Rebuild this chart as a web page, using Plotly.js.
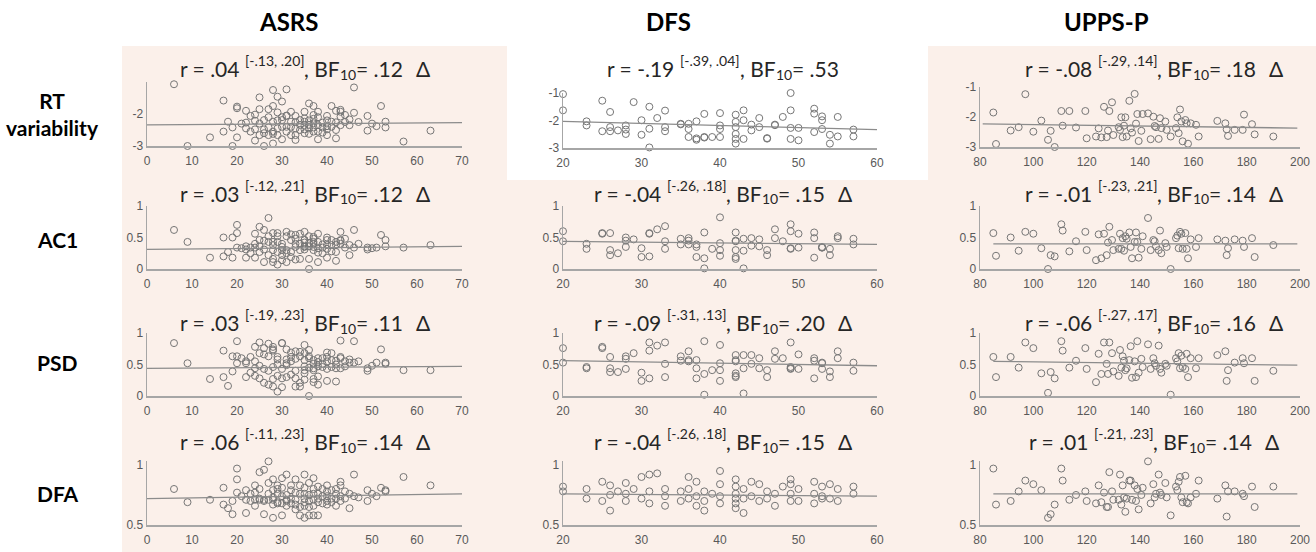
<!DOCTYPE html>
<html><head><meta charset="utf-8">
<script src="https://cdn.plot.ly/plotly-3.0.1.min.js"></script>
<style>html,body{margin:0;padding:0;background:#fff}#chart{width:1316px;height:552px}</style>
</head><body><div id="chart"></div>
<script>
// ---------- labels ----------
const colNames = ["ASRS", "DFS", "UPPS-P"];
const rowNames = ["RT<br>variability", "AC1", "PSD", "DFA"];
const colXRange = [[0, 70], [20, 60], [80, 200]];
const colXTicks = [[0, 10, 20, 30, 40, 50, 60, 70], [20, 30, 40, 50, 60], [80, 100, 120, 140, 160, 180, 200]];

// ---------- ASRS (x shared across rows) ----------
const asrsX = [6,9,14,17,17,18,19,19,20,20,20,22,22,22,23,24,24,24,25,25,25,26,26,26,27,27,27,
  28,28,28,28,28,29,29,29,30,30,30,30,31,31,31,32,32,32,33,33,33,34,34,34,35,35,35,35,35,
  36,36,36,37,37,37,37,38,38,38,39,39,40,40,40,41,41,42,42,42,43,43,43,44,45,46,46,49,49,51,52,53,53,57,63,
  21,23,24,25,26,27,28,29,29,30,31,31,32,33,33,34,35,35,36,36,37,37,38,38,39,40,40,41,42,43,44,45,47,50];
const asrsRT = [-1.07,-3.0,-2.73,-1.58,-2.55,-2.24,-2.42,-3.0,-1.77,-1.82,-2.73,-1.9,-2.27,-2.45,-2.06,
  -2.48,-2.83,-2.21,-1.48,-1.85,-2.66,-2.19,-3.0,-2.48,-1.85,-2.42,-2.66,-1.25,-1.75,-2.24,-2.92,-2.55,
  -1.46,-2.45,-2.66,-1.61,-2.19,-2.1,-2.79,-2.4,-1.23,-2.06,-1.93,-2.66,-2.24,-2.45,-2.81,-2.06,
  -2.19,-3.04,-2.34,-1.93,-2.48,-3.02,-2.14,-2.24,-1.67,-2.34,-2.62,-2.03,-1.75,-2.42,-2.29,
  -2.55,-1.93,-2.79,-2.27,-2.42,-2.66,-2.38,-2.06,-1.75,-2.24,-1.9,-2.5,-2.76,-1.87,-2.08,-1.93,
  -2.03,-2.17,-1.17,-1.96,-2.06,-2.52,-2.38,-1.75,-2.24,-2.42,-2.86,-2.52,
  -2.30,-2.55,-2.02,-2.30,-2.60,-2.10,-2.62,-2.20,-1.95,-2.40,-2.55,-2.05,-2.40,-2.25,-2.66,-2.50,-2.35,
  -2.60,-2.20,-2.45,-2.55,-2.15,-2.35,-2.10,-2.58,-2.20,-2.48,-2.40,-2.26,-2.35,-2.25,-2.35,-2.25,-2.30];
const asrsAC1 = [0.62,0.43,0.18,0.50,0.20,0.27,0.50,0.18,0.57,0.70,0.34,0.31,0.36,0.18,0.34,
  0.18,0.56,0.34,0.67,0.46,0.27,0.62,0.11,0.31,0.43,0.81,0.22,0.57,0.16,0.30,0.43,0.11,
  0.57,0.43,0.07,0.30,0.14,0.22,0.35,0.59,0.11,0.52,0.27,0.46,0.19,0.54,0.15,0.40,
  0.56,0.40,0.16,0.46,0.31,0.46,0.59,0.35,0.16,0.0,0.41,0.51,0.43,0.35,0.30,
  0.56,0.26,0.11,0.34,0.39,0.46,0.18,0.32,0.46,0.38,0.43,0.13,0.27,0.46,0.59,0.45,
  0.34,0.22,0.62,0.34,0.34,0.31,0.34,0.54,0.46,0.36,0.34,0.38,
  0.33,0.25,0.40,0.36,0.45,0.52,0.38,0.27,0.52,0.40,0.30,0.25,0.55,0.35,0.48,0.30,0.36,
  0.42,0.36,0.52,0.40,0.48,0.43,0.33,0.25,0.38,0.50,0.28,0.38,0.40,0.48,0.38,0.40,0.33];
const asrsPSD = [0.84,0.52,0.27,0.72,0.30,0.16,0.63,0.39,0.87,0.63,0.52,0.52,0.30,0.55,0.37,
  0.78,0.32,0.44,0.85,0.68,0.28,0.76,0.21,0.43,0.63,0.83,0.18,0.74,0.27,0.15,0.78,0.46,
  0.07,0.32,0.58,0.84,0.14,0.43,0.84,0.74,0.30,0.49,0.69,0.34,0.55,0.71,0.40,0.15,
  0.63,0.21,0.15,0.81,0.57,0.41,0.68,0.26,0.0,0.63,0.60,0.44,0.27,0.57,0.41,
  0.60,0.18,0.31,0.51,0.46,0.24,0.69,0.55,0.46,0.68,0.56,0.23,0.44,0.60,0.88,0.44,
  0.55,0.53,0.87,0.53,0.44,0.40,0.53,0.74,0.53,0.51,0.41,0.41,
  0.60,0.62,0.55,0.48,0.66,0.40,0.72,0.50,0.62,0.28,0.58,0.52,0.62,0.59,0.28,0.70,0.47,
  0.36,0.45,0.73,0.51,0.22,0.54,0.47,0.60,0.43,0.62,0.57,0.50,0.62,0.47,0.58,0.55,0.48];
const asrsDFA = [0.80,0.69,0.71,0.81,0.67,0.64,0.70,0.59,0.97,0.88,0.77,0.79,0.60,0.71,0.76,
  0.71,0.83,0.77,0.94,0.71,0.72,0.96,0.59,0.71,1.03,0.85,0.71,0.88,0.71,0.56,0.67,0.79,
  0.83,0.68,0.76,0.89,0.68,0.81,0.58,0.71,0.92,0.75,0.68,0.83,0.79,0.63,0.71,0.88,
  0.83,0.58,0.65,0.92,0.81,0.56,0.76,0.69,0.58,0.85,0.65,0.80,0.58,0.71,0.89,
  0.76,0.58,0.69,0.80,0.68,0.83,0.74,0.67,0.79,0.72,0.72,0.66,0.76,0.86,0.83,0.74,
  0.72,0.64,0.92,0.74,0.79,0.70,0.74,0.81,0.79,0.78,0.90,0.83,
  0.74,0.70,0.66,0.80,0.70,0.76,0.73,0.69,0.80,0.74,0.70,0.66,0.72,0.77,0.67,0.76,0.72,
  0.66,0.75,0.70,0.66,0.76,0.72,0.82,0.74,0.70,0.78,0.69,0.80,0.70,0.78,0.76,0.73,0.76];

// ---------- DFS ----------
const dfsX = [20,20,23,23,25,25,26,26,26,27,28,28,28,29,30,30,31,31,31,32,33,33,33,35,35,36,36,36,
  37,37,37,38,38,38,39,40,40,40,40,42,42,42,42,42,42,43,43,43,44,44,45,45,46,46,47,47,48,
  49,49,49,49,50,50,52,52,52,53,53,53,54,54,55,55,57,57];
const dfsRT = [-1.04,-1.63,-2.03,-2.18,-1.28,-2.39,-1.69,-2.24,-2.39,-2.36,-2.18,-2.33,-2.49,-1.33,
  -1.99,-2.52,-1.50,-2.30,-2.98,-1.91,-1.64,-2.24,-2.39,-2.12,-2.14,-2.12,-2.31,-2.60,
  -2.03,-2.70,-2.65,-1.76,-2.60,-2.62,-2.60,-1.73,-2.18,-2.31,-2.60,-1.79,-2.05,-2.24,-2.49,-2.67,-2.84,
  -1.63,-1.99,-2.67,-2.15,-2.36,-1.91,-2.24,-2.64,-2.66,-2.15,-2.17,-1.87,
  -1.00,-1.63,-2.27,-2.67,-2.27,-2.72,-1.57,-1.75,-2.42,-1.85,-1.99,-2.31,-2.52,-2.84,-1.87,-2.58,-2.33,-2.58];
const dfsAC1 = [0.60,0.44,0.40,0.32,0.57,0.56,0.57,0.30,0.22,0.25,0.50,0.45,0.35,0.47,
  0.33,0.19,0.56,0.57,0.20,0.63,0.68,0.44,0.32,0.48,0.39,0.49,0.45,0.39,
  0.39,0.35,0.19,0.58,0.17,0.01,0.32,0.82,0.41,0.30,0.21,0.58,0.45,0.44,0.30,0.19,0.16,
  0.48,0.29,0.01,0.49,0.37,0.47,0.36,0.30,0.22,0.63,0.49,0.44,
  0.71,0.60,0.32,0.33,0.56,0.34,0.58,0.49,0.18,0.34,0.35,0.34,0.32,0.22,0.52,0.49,0.48,0.39];
const dfsPSD = [0.76,0.53,0.46,0.44,0.78,0.76,0.62,0.44,0.38,0.38,0.63,0.59,0.43,0.68,
  0.37,0.24,0.85,0.72,0.28,0.80,0.85,0.51,0.30,0.63,0.56,0.71,0.57,0.55,
  0.57,0.44,0.28,0.87,0.35,0.02,0.41,0.81,0.52,0.41,0.24,0.65,0.57,0.55,0.36,0.32,0.30,
  0.65,0.44,0.04,0.65,0.51,0.60,0.44,0.41,0.30,0.71,0.59,0.60,
  0.85,0.46,0.43,0.44,0.66,0.43,0.60,0.56,0.28,0.53,0.52,0.43,0.39,0.30,0.71,0.60,0.53,0.40];
const dfsDFA = [0.82,0.78,0.80,0.72,0.86,0.70,0.83,0.75,0.62,0.78,0.85,0.76,0.70,0.80,
  0.90,0.72,0.92,0.78,0.68,0.93,0.80,0.74,0.66,0.78,0.70,0.90,0.80,0.72,
  0.86,0.74,0.66,0.78,0.70,0.62,0.76,0.95,0.84,0.74,0.68,0.88,0.82,0.76,0.72,0.68,0.64,
  0.80,0.72,0.60,0.86,0.74,0.84,0.70,0.78,0.72,0.76,0.66,0.82,
  0.88,0.84,0.76,0.70,0.80,0.70,0.86,0.76,0.68,0.82,0.74,0.72,0.84,0.72,0.80,0.70,0.82,0.76];

// ---------- UPPS-P ----------
const uppsX = [85,86,91.5,94.5,97,100,103,105.5,106.5,108,110.5,111,113.5,116,119.5,120,123.5,124.5,125.5,126.5,
  127.5,128,128.5,129.5,130,132,132.5,133,133.5,134,134.5,135,136,136.5,137,138,138.5,139,139.5,140.5,
  141,143,144,145,145.5,146,147,147.5,148,149.5,150,151.5,153.5,154,154.5,155,155.5,156,157,157.5,
  158,159,161,162,169,172,172.5,173,175.5,178.5,179,182,183,190];
const uppsRT = [-1.85,-2.9,-2.45,-2.34,-1.24,-2.49,-2.12,-2.76,-2.46,-3.0,
  -1.80,-2.29,-1.80,-2.35,-1.80,-2.71,-2.65,-2.38,-2.68,-1.66,
  -2.67,-2.45,-1.80,-1.51,-2.60,-2.34,-2.43,-2.01,-2.67,-2.29,
  -2.01,-2.65,-1.46,-2.38,-2.52,-1.23,-2.22,-1.90,-2.80,-2.46,
  -1.90,-1.88,-2.74,-1.99,-2.30,-2.34,-2.73,-2.04,-2.37,-2.15,
  -2.43,-2.65,-2.37,-2.01,-2.54,-1.75,-2.15,-2.81,-2.10,-2.21,
  -2.89,-2.21,-2.26,-2.65,-2.13,-2.21,-2.41,-2.63,-2.43,-2.43,
  -1.92,-2.24,-2.58,-2.65];
const uppsAC1 = [0.57,0.21,0.50,0.29,0.59,0.56,0.33,0.0,0.22,0.20,
  0.71,0.61,0.28,0.44,0.59,0.30,0.14,0.55,0.17,0.56,
  0.22,0.42,0.67,0.46,0.30,0.32,0.56,0.32,0.49,0.29,
  0.52,0.48,0.58,0.35,0.17,0.43,0.58,0.43,0.18,0.32,
  0.52,0.81,0.30,0.46,0.44,0.36,0.30,0.61,0.25,0.41,
  0.35,0.0,0.49,0.53,0.33,0.59,0.56,0.32,0.57,0.32,
  0.17,0.47,0.35,0.49,0.47,0.45,0.22,0.33,0.47,0.45,
  0.35,0.49,0.19,0.38];
const uppsPSD = [0.62,0.30,0.62,0.45,0.85,0.76,0.36,0.05,0.38,0.28,
  0.87,0.72,0.45,0.56,0.76,0.43,0.22,0.67,0.35,0.85,
  0.51,0.35,0.85,0.68,0.39,0.32,0.73,0.45,0.63,0.56,
  0.41,0.44,0.57,0.79,0.29,0.55,0.30,0.87,0.37,0.59,
  0.46,0.82,0.43,0.60,0.52,0.48,0.80,0.43,0.37,0.51,
  0.48,0.02,0.60,0.55,0.68,0.44,0.64,0.46,0.43,0.67,
  0.30,0.60,0.44,0.60,0.65,0.71,0.24,0.41,0.53,0.60,
  0.52,0.60,0.24,0.40];
const uppsDFA = [0.97,0.67,0.70,0.78,0.87,0.84,0.79,0.56,0.59,0.67,
  0.97,0.87,0.71,0.75,0.78,0.70,0.68,0.83,0.69,0.77,
  0.65,0.65,0.94,0.78,0.71,0.71,0.92,0.67,0.83,0.73,
  0.61,0.72,0.87,0.87,0.71,0.83,0.70,0.80,0.63,0.75,
  0.81,1.03,0.68,0.84,0.73,0.76,0.92,0.77,0.75,0.85,
  0.73,0.58,0.82,0.79,0.86,0.90,0.73,0.69,0.91,0.69,
  0.68,0.73,0.76,0.87,0.72,0.83,0.57,0.78,0.78,0.76,
  0.74,0.82,0.65,0.82];

// ---------- statistics per panel (row-major: RT, AC1, PSD, DFA x ASRS, DFS, UPPS-P) ----------
const statR  = [".04", "-.19", "-.08", ".03", "-.04", "-.01", ".03", "-.09", "-.06", ".06", "-.04", ".01"];
const statCI = ["[-.13, .20]", "[-.39, .04]", "[-.29, .14]", "[-.12, .21]", "[-.26, .18]", "[-.23, .21]",
                "[-.19, .23]", "[-.31, .13]", "[-.27, .17]", "[-.11, .23]", "[-.26, .18]", "[-.21, .23]"];
const statBF = [".12", ".53", ".18", ".12", ".15", ".14", ".11", ".20", ".16", ".14", ".15", ".14"];
const statDelta = [1, 0, 1, 1, 1, 1, 1, 1, 1, 1, 1, 1];

// ---------- regression lines (end points) ----------
const fitX0 = [0, 20, 81, 0, 20, 85, 0, 20, 85, 0, 20, 85];
const fitX1 = [70, 60, 199, 70, 60, 199, 70, 60, 199, 70, 60, 199];
const fitY0 = [-2.34, -2.03, -2.23, 0.31, 0.44, 0.40, 0.44, 0.56, 0.55, 0.72, 0.76, 0.76];
const fitY1 = [-2.27, -2.33, -2.37, 0.36, 0.39, 0.40, 0.47, 0.48, 0.49, 0.76, 0.74, 0.76];

// ---------- layout geometry (pixels) ----------
const W = 1316, H = 552;
const colXpx = [[147, 462], [563, 877], [980, 1300]];
const panelYpx = [[82,146],[93,148],[87,147],[206,269],[206,269],[206,269],[333,396],[333,396],[333,396],[461,525],[461,525],[461,525]];
const rowYRange = [[-3, -1], [0, 1], [0, 1], [0.5, 1.033]];
const rowTicks = [[-3, -2, -1], [0, 0.5, 1], [0, 0.5, 1], [0.5, 1]];
const rowTickText = [["-3", "-2", "-1"], ["0", "0.5", "1"], ["0", "0.5", "1"], ["0.5", "1"]];
const titleXpx = [304, 722, 1153];
const titleYpx = [68, 193, 322, 441];

const xs = [asrsX, dfsX, uppsX];
const ys = [[asrsRT, dfsRT, uppsRT], [asrsAC1, dfsAC1, uppsAC1], [asrsPSD, dfsPSD, uppsPSD], [asrsDFA, dfsDFA, uppsDFA]];

const tickFont = {family: "Liberation Sans, Arial, sans-serif", size: 12, color: "#595959"};
const textFont = "Lato";
const textColor = "#262626";

// text width measurement (to lay out the r / CI / BF10 pieces side by side)
const ctx = document.createElement("canvas").getContext("2d");
function textWidth(t, size) { ctx.font = size + "px " + textFont; return ctx.measureText(t).width; }

const data = [];
const layout = {
  width: W, height: H, margin: {l: 0, r: 0, t: 0, b: 0},
  paper_bgcolor: "#ffffff", plot_bgcolor: "rgba(0,0,0,0)", showlegend: false,
  shapes: [
    {type: "rect", xref: "paper", yref: "paper", x0: 122 / W, x1: 1, y0: 0, y1: 1 - 46 / H,
     fillcolor: "#fbf0ea", line: {width: 0}, layer: "below"},
    {type: "rect", xref: "paper", yref: "paper", x0: 507 / W, x1: 928 / W, y0: 1 - 180 / H, y1: 1 - 46 / H,
     fillcolor: "#ffffff", line: {width: 0}, layer: "below"}
  ],
  annotations: []
};

function addText(t, xPx, yPx, size, anchor, bold) {
  layout.annotations.push({
    xref: "paper", yref: "paper", x: xPx / W, y: 1 - yPx / H,
    xanchor: anchor, yanchor: "middle", showarrow: false, borderpad: 0,
    text: bold ? "<b>" + t + "</b>" : t,
    font: {family: textFont, size: size, color: bold ? "#000" : textColor}
  });
}

for (let r = 0; r < 4; r++) {
  for (let c = 0; c < 3; c++) {
    const i = r * 3 + c;
    const k = i + 1;
    const s = k === 1 ? "" : String(k);
    const py = panelYpx[i];
    let tv = rowTicks[r], tt = rowTickText[r];
    if (r === 0 && c === 0) { tv = [-3, -2]; tt = ["-3", "-2"]; }
    layout["xaxis" + s] = {
      domain: [colXpx[c][0] / W, colXpx[c][1] / W], range: colXRange[c], anchor: "y" + s,
      tickmode: "array", tickvals: colXTicks[c], ticktext: colXTicks[c].map(String),
      showline: true, linecolor: "#a6a6a6", linewidth: 1.5, showgrid: false, zeroline: false,
      ticks: "", tickfont: tickFont, ticklabelstandoff: 3, fixedrange: true
    };
    layout["yaxis" + s] = {
      domain: [1 - py[1] / H, 1 - py[0] / H], range: rowYRange[r], anchor: "x" + s,
      tickmode: "array", tickvals: tv, ticktext: tt,
      showline: true, linecolor: "#a6a6a6", linewidth: 1.5, showgrid: false, zeroline: false,
      ticks: "", tickfont: tickFont, fixedrange: true
    };
    data.push({
      type: "scatter", mode: "markers", x: xs[c], y: ys[r][c], xaxis: "x" + s, yaxis: "y" + s,
      marker: {symbol: "circle-open", size: 7, color: "#767676", line: {width: 1}},
      cliponaxis: false, hoverinfo: "x+y"
    });
    data.push({
      type: "scatter", mode: "lines", x: [fitX0[i], fitX1[i]], y: [fitY0[i], fitY1[i]],
      xaxis: "x" + s, yaxis: "y" + s, line: {color: "#8c8c8c", width: 1.3}, cliponaxis: false, hoverinfo: "skip"
    });

    // statistic label: main text 21px, CI raised 14px, subscript "10" lowered 14px
    const segs = [
      {t: "r = " + statR[i] + " ", size: 21, dy: 0},
      {t: statCI[i], size: 14, dy: -8},
      {t: ", BF", size: 21, dy: 0},
      {t: "10", size: 14, dy: 6},
      {t: "= " + statBF[i], size: 21, dy: 0}
    ];
    if (statDelta[i]) segs.push({t: "\u0394", size: 21, dy: 0, gap: 13});
    let total = 0;
    segs.forEach(g => { g.gapW = g.gap || 0; g.w = textWidth(g.t, g.size); total += g.gapW + g.w; });
    let x = titleXpx[c] - total / 2;
    segs.forEach(g => {
      x += g.gapW;
      addText(g.t.trim(), x, titleYpx[r] + g.dy, g.size, "left", false);
      x += g.w;
    });
  }
}

const colHeadX = [288, 668, 1106];
colNames.forEach((n, c) => addText(n, colHeadX[c], 22, 24, "center", true));
const rowLabX = [52, 57, 57, 58];
const rowLabY = [114, 240, 362, 493];
rowNames.forEach((n, r) => addText(n, rowLabX[r], rowLabY[r], 21, "center", true));

Plotly.newPlot("chart", data, layout, {displayModeBar: false, staticPlot: true});
</script></body></html>
